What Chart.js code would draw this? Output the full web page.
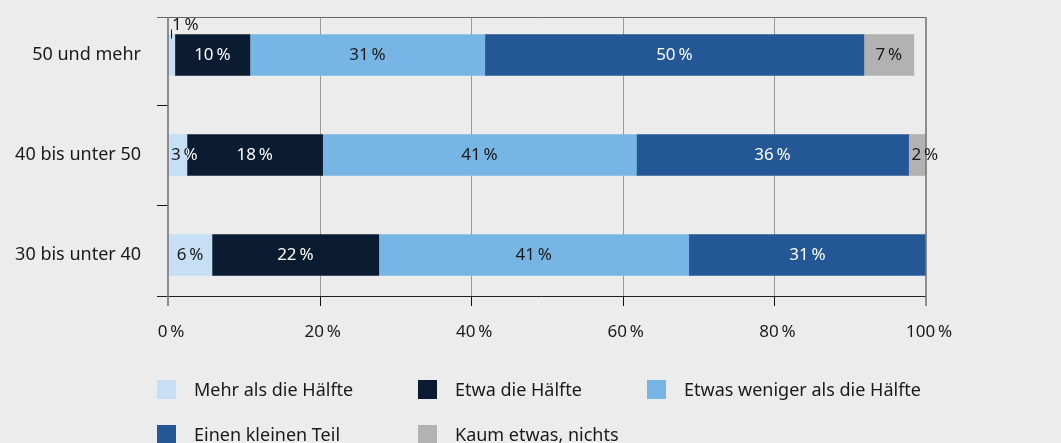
<!DOCTYPE html>
<html lang="de">
<head>
<meta charset="utf-8">
<script src="https://cdn.jsdelivr.net/npm/chart.js@4.4.1/dist/chart.umd.min.js"></script>
<style>
  html, body { margin: 0; padding: 0; background: #ececec; }
  #wrap { position: relative; width: 1061px; height: 443px; overflow: hidden; }
  #legend { position: absolute; left: 0; top: 0; width: 1061px; height: 443px; pointer-events: none;
            font-family: "Noto Sans", sans-serif; font-size: 18px; color: #1a1a1a; }
  .item { position: absolute; display: flex; align-items: center; height: 20px; }
  .box { width: 19px; height: 19px; margin-right: 18px; }
</style>
</head>
<body>
<div id="wrap">
  <canvas id="c" width="1061" height="443"></canvas>
  <div id="legend"></div>
</div>
<script>
// Altersgruppen
const categories = ['50 und mehr', '40 bis unter 50', '30 bis unter 40'];

// Anteile in Prozent, Reihenfolge wie categories
const mehrAlsHaelfte   = [0.9, 2.5, 5.8];
const etwaHaelfte      = [9.9, 17.9, 22.0];
const etwasWeniger     = [31.0, 41.4, 40.9];
const kleinerTeil      = [50.0, 35.9, 31.3];
const kaumNichts       = [6.6, 2.3, 0];

const seriesNames = ['Mehr als die Hälfte', 'Etwa die Hälfte', 'Etwas weniger als die Hälfte', 'Einen kleinen Teil', 'Kaum etwas, nichts'];
const seriesColors = ['#c6dff4', '#0b1b31', '#77b6e4', '#245795', '#b2b2b2'];
const labelColors = ['#1a1a1a', '#ffffff', '#1a1a1a', '#ffffff', '#1a1a1a'];
const xTicks = [0, 20, 40, 60, 80, 100];

const pct = v => Math.round(v) + '\u202F%';

// Rahmen, Gitter und Achsenstriche
const framePlugin = {
    id: 'frame',
    beforeDatasetsDraw(chart) {
        const { ctx, scales: { x, y } } = chart;
        const top = y.top + 12, bottom = y.bottom - 9;
        ctx.save();
        ctx.lineWidth = 1;
        ctx.strokeStyle = '#9a9a9a';
        xTicks.slice(1, -1).forEach(t => {
            const px = Math.round(x.getPixelForValue(t)) + 0.5;
            ctx.beginPath(); ctx.moveTo(px, top); ctx.lineTo(px, bottom); ctx.stroke();
        });
        // Striche unten
        ctx.strokeStyle = '#111';
        xTicks.slice(1, -1).forEach(t => {
            const px = Math.round(x.getPixelForValue(t)) + 0.5;
            ctx.beginPath(); ctx.moveTo(px, bottom); ctx.lineTo(px, bottom + 10); ctx.stroke();
        });
        // Kategorie-Trenner links
        for (let i = 0; i < categories.length - 1; i++) {
            const py = Math.round((y.getPixelForValue(i) + y.getPixelForValue(i + 1)) / 2) + 0.5;
            ctx.beginPath(); ctx.moveTo(x.left - 11, py); ctx.lineTo(x.left, py); ctx.stroke();
        }
        // obere Linie
        ctx.strokeStyle = '#666';
        ctx.beginPath(); ctx.moveTo(x.left - 11, top + 0.5); ctx.lineTo(x.right, top + 0.5); ctx.stroke();
        // untere Achse
        ctx.strokeStyle = '#222';
        ctx.beginPath(); ctx.moveTo(x.left - 11, bottom + 0.5); ctx.lineTo(x.right, bottom + 0.5); ctx.stroke();
        ctx.restore();
    },
    afterDatasetsDraw(chart) {
        const { ctx, scales: { x, y } } = chart;
        const top = y.top + 12, bottom = y.bottom - 9;
        ctx.save();
        ctx.strokeStyle = '#777';
        ctx.lineWidth = 1.6;
        [0, 100].forEach(t => {
            const px = Math.round(x.getPixelForValue(t));
            ctx.beginPath(); ctx.moveTo(px, top); ctx.lineTo(px, bottom + 10); ctx.stroke();
        });
        ctx.restore();
    }
};

// Wertebeschriftung in den Balken
const valueLabels = {
    id: 'valueLabels',
    afterDraw(chart) {
        const { ctx } = chart;
        ctx.save();
        ctx.font = '17px "Noto Sans", sans-serif';
        ctx.textBaseline = 'middle';
        chart.data.datasets.forEach((ds, di) => {
            const meta = chart.getDatasetMeta(di);
            meta.data.forEach((bar, i) => {
                const v = ds.data[i];
                if (!v) return;
                const left = Math.min(bar.base, bar.x), right = Math.max(bar.base, bar.x);
                const w = right - left;
                const text = pct(v);
                if (v < 1.5) {
                    const top = bar.y - bar.height / 2;
                    const lx = Math.round((left + right) / 2) + 0.5;
                    ctx.strokeStyle = '#111';
                    ctx.lineWidth = 1;
                    ctx.beginPath(); ctx.moveTo(lx, top - 5); ctx.lineTo(lx, top + 4); ctx.stroke();
                    ctx.fillStyle = '#1a1a1a';
                    ctx.textAlign = 'left';
                    ctx.fillText(text, left + 4, top - 9);
                    return;
                }
                if (w < 30) {
                    const tx = left + 3;
                    ctx.textAlign = 'left';
                    ctx.fillStyle = '#1a1a1a';
                    ctx.fillText(text, tx, bar.y);
                    // helle Schrift, wo der Text über dunkle Balken läuft
                    chart.data.datasets.forEach((ds2, dj) => {
                        if (labelColors[dj] !== '#ffffff') return;
                        const b2 = chart.getDatasetMeta(dj).data[i];
                        ctx.save();
                        ctx.beginPath();
                        ctx.rect(Math.min(b2.base, b2.x), b2.y - b2.height / 2, Math.abs(b2.x - b2.base), b2.height);
                        ctx.clip();
                        ctx.fillStyle = '#ffffff';
                        ctx.fillText(text, tx, bar.y);
                        ctx.restore();
                    });
                    return;
                }
                ctx.textAlign = 'center';
                ctx.fillStyle = labelColors[di];
                ctx.fillText(text, (left + right) / 2, bar.y);
            });
        });
        ctx.restore();
    }
};

const seriesData = [mehrAlsHaelfte, etwaHaelfte, etwasWeniger, kleinerTeil, kaumNichts];

const chart = new Chart(document.getElementById('c').getContext('2d'), {
    type: 'bar',
    data: {
        labels: categories,
        datasets: seriesNames.map((name, i) => ({
            label: name,
            data: seriesData[i],
            backgroundColor: seriesColors[i],
            borderWidth: 0,
            barThickness: 41
        }))
    },
    options: {
        indexAxis: 'y',
        responsive: false,
        animation: false,
        layout: { padding: { top: 5, right: 135, left: 0, bottom: 0 } },
        plugins: {
            legend: { display: false },
            tooltip: { enabled: false }
        },
        scales: {
            x: {
                stacked: true,
                min: 0,
                max: 100,
                afterBuildTicks: s => { s.ticks = xTicks.map(v => ({ value: v })); },
                afterFit: s => { s.height = 138; s.paddingLeft = 0; s.paddingRight = 0; },
                grid: { display: false, drawTicks: false },
                border: { display: false },
                ticks: {
                    padding: 17,
                    color: '#1a1a1a',
                    font: { family: 'Noto Sans', size: 17 },
                    maxRotation: 0,
                    labelOffset: 3,
                    callback: v => v + '\u202F%'
                }
            },
            y: {
                stacked: true,
                afterFit: s => { s.width = 168; s.paddingTop = 0; s.paddingBottom = 0; },
                grid: { display: false, drawTicks: false },
                border: { display: false },
                ticks: {
                    padding: 27,
                    color: '#1a1a1a',
                    font: { family: 'Noto Sans', size: 18 }
                }
            }
        }
    },
    plugins: [framePlugin, valueLabels]
});

// Legende (drei Spalten)
const legendCols = [157, 418, 647];
const legendRows = [379, 424];
const legend = document.getElementById('legend');
chart.data.datasets.forEach((ds, i) => {
    const item = document.createElement('div');
    item.className = 'item';
    item.style.left = legendCols[i % 3] + 'px';
    item.style.top = legendRows[Math.floor(i / 3)] + 'px';
    item.innerHTML = '<div class="box" style="background:' + ds.backgroundColor + '"></div><span>' + ds.label + '</span>';
    legend.appendChild(item);
});
</script>
</body>
</html>
